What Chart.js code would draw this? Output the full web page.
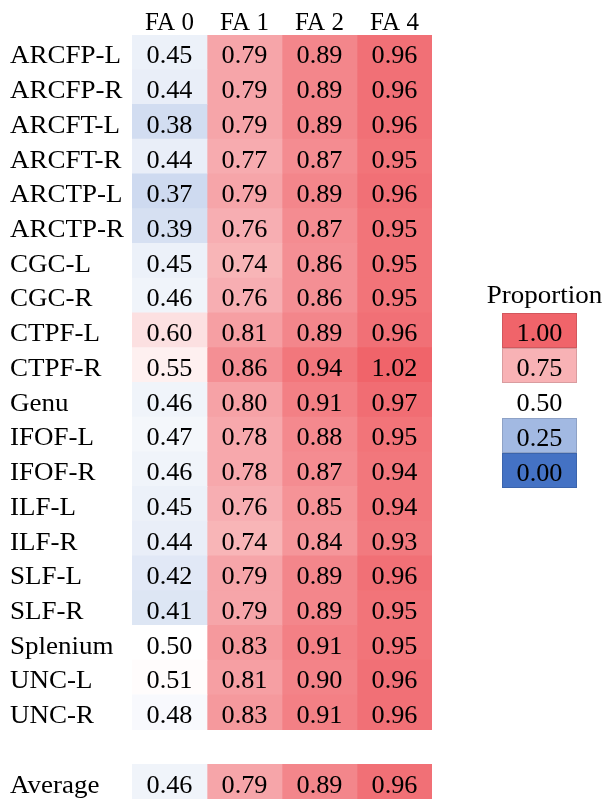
<!DOCTYPE html>
<html lang="en">
<head>
    <meta charset="UTF-8">
    <script src="https://cdn.jsdelivr.net/npm/chart.js@4.4.0/dist/chart.umd.min.js"></script>
    <style>
        html, body { margin: 0; padding: 0; background: #fff; }
        #box { width: 608px; height: 799px; }
    </style>
    <title>Proportion</title>
</head>
<body>
<div id="box"><canvas id="myChart"></canvas></div>
<script>
    const columns = ['FA 0', 'FA 1', 'FA 2', 'FA 4'];
    const rows = ['ARCFP-L', 'ARCFP-R', 'ARCFT-L', 'ARCFT-R', 'ARCTP-L', 'ARCTP-R', 'CGC-L', 'CGC-R',
        'CTPF-L', 'CTPF-R', 'Genu', 'IFOF-L', 'IFOF-R', 'ILF-L', 'ILF-R', 'SLF-L', 'SLF-R',
        'Splenium', 'UNC-L', 'UNC-R', '', 'Average'];
    const fa0 = [0.45, 0.44, 0.38, 0.44, 0.37, 0.39, 0.45, 0.46, 0.60, 0.55, 0.46, 0.47, 0.46, 0.45, 0.44, 0.42, 0.41, 0.50, 0.51, 0.48, null, 0.46];
    const fa1 = [0.79, 0.79, 0.79, 0.77, 0.79, 0.76, 0.74, 0.76, 0.81, 0.86, 0.80, 0.78, 0.78, 0.76, 0.74, 0.79, 0.79, 0.83, 0.81, 0.83, null, 0.79];
    const fa2 = [0.89, 0.89, 0.89, 0.87, 0.89, 0.87, 0.86, 0.86, 0.89, 0.94, 0.91, 0.88, 0.87, 0.85, 0.84, 0.89, 0.89, 0.91, 0.90, 0.91, null, 0.89];
    const fa4 = [0.96, 0.96, 0.96, 0.95, 0.96, 0.95, 0.95, 0.95, 0.96, 1.02, 0.97, 0.95, 0.94, 0.94, 0.93, 0.96, 0.95, 0.95, 0.96, 0.96, null, 0.96];
    const legendValues = [1.00, 0.75, 0.50, 0.25, 0.00];
    const legendTitle = 'Proportion';

    const series = [fa0, fa1, fa2, fa4];
    const serif = '"Liberation Serif", "Times New Roman", serif';

    // blue (0) -> white (0.5) -> red (1)
    function heat(v) {
        const lo = [68, 114, 196], mid = [255, 255, 255], hi = [240, 100, 106];
        let t, a, b;
        if (v >= 0.5) { t = Math.min((v - 0.5) / 0.5, 1); a = mid; b = hi; }
        else { t = Math.min((0.5 - v) / 0.5, 1); a = mid; b = lo; }
        const c = a.map((x, i) => Math.round(x + (b[i] - x) * t));
        return 'rgb(' + c.join(',') + ')';
    }

    function text(ctx, str, x, y, align, size, stretch) {
        ctx.save();
        ctx.translate(x, y);
        ctx.scale(stretch, 1);
        ctx.font = size + 'px ' + serif;
        ctx.fillStyle = '#000';
        ctx.textAlign = align;
        ctx.textBaseline = 'alphabetic';
        ctx.fillText(str, 0, 0);
        ctx.restore();
    }

    const labelsPlugin = {
        id: 'heatLabels',
        afterDatasetsDraw(chart) {
            const ctx = chart.ctx;
            const xs = chart.scales.x, ys = chart.scales.y;
            // row labels
            rows.forEach((r, i) => { if (r) text(ctx, r, 10, ys.getPixelForValue(i) + 11, 'left', 25, 1.08); });
            // cell values
            chart.data.datasets.forEach((ds, di) => {
                chart.getDatasetMeta(di).data.forEach((el, i) => {
                    const v = series[di][i];
                    if (v == null) return;
                    text(ctx, v.toFixed(2), (el.x + el.base) / 2, el.y + 11, 'center', 25, 1.05);
                });
            });
            // column headers
            columns.forEach((c, i) => text(ctx, c, xs.getPixelForValue(i + 0.5), 30, 'center', 25, 1.0));
            // colour key
            const left = 502, w = 75, h = 35, top = 313;
            text(ctx, legendTitle, left + w / 2 + 5, 303, 'center', 25, 1.08);
            legendValues.forEach((v, i) => {
                const y = top + i * h;
                ctx.fillStyle = heat(v);
                ctx.fillRect(left, y, w, h);
                if (v !== 0.5) {
                    ctx.strokeStyle = 'rgba(0,0,0,0.12)';
                    ctx.lineWidth = 1;
                    ctx.strokeRect(left + 0.5, y + 0.5, w - 1, h - 1);
                }
                text(ctx, v.toFixed(2), left + w / 2, y + h / 2 + 10, 'center', 25, 1.05);
            });
        }
    };

    const ctx = document.getElementById('myChart').getContext('2d');
    const myChart = new Chart(ctx, {
        type: 'bar',
        data: {
            labels: rows,
            datasets: series.map((vals, c) => ({
                label: columns[c],
                data: vals.map(v => v == null ? null : [c, c + 1]),
                backgroundColor: vals.map(v => v == null ? 'rgba(0,0,0,0)' : heat(v)),
                borderWidth: 0,
                grouped: false,
                barPercentage: 1,
                categoryPercentage: 1
            }))
        },
        options: {
            indexAxis: 'y',
            responsive: true,
            maintainAspectRatio: false,
            animation: false,
            layout: { padding: { left: 132, right: 176, top: 35, bottom: 0 } },
            plugins: { legend: { display: false }, tooltip: { enabled: false } },
            scales: {
                x: { type: 'linear', min: 0, max: 4, display: false },
                y: { type: 'category', display: false, offset: true }
            }
        },
        plugins: [labelsPlugin]
    });
</script>
</body>
</html>
